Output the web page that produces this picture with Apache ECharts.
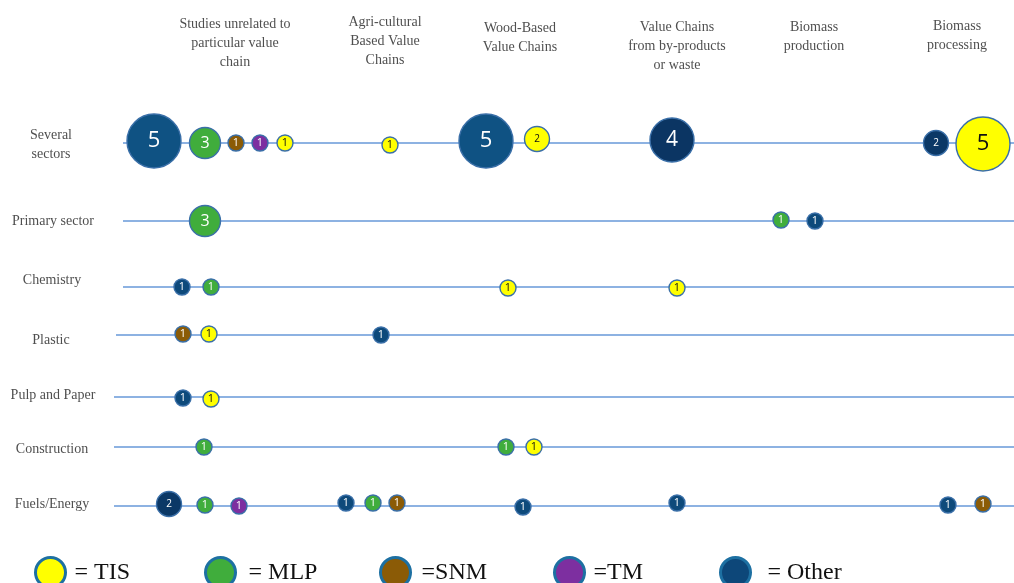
<!DOCTYPE html>
<html>
<head>
<meta charset="utf-8">
<script src="https://cdn.jsdelivr.net/npm/echarts@6/dist/echarts.min.js"></script>
<style>
html,body{margin:0;padding:0;background:#fff;}
#chart{width:1014px;height:583px;}
</style>
</head>
<body>
<div id="chart"></div>
<script>
// ---------- DATA ----------
const categories = ['TIS', 'MLP', 'SNM', 'TM', 'Other'];
const legendText = ['= TIS', '= MLP', '=SNM', '=TM', '= Other'];
const columnHeaders = [
  'Studies unrelated to\nparticular value\nchain',
  'Agri-cultural\nBased Value\nChains',
  'Wood-Based\nValue Chains',
  'Value Chains\nfrom by-products\nor waste',
  'Biomass\nproduction',
  'Biomass\nprocessing'
];
const rowNames = ['Several\nsectors', 'Primary sector', 'Chemistry', 'Plastic', 'Pulp and Paper', 'Construction', 'Fuels/Energy'];

// bubbles: [x on diagram scale, y on diagram scale, count]
const tisData = [[285,143,1],[390,145,1],[537,139,2],[983,144,5],[508,288,1],[677,288,1],[209,334,1],[211,399,1],[534,447,1]];
const mlpData = [[205,143,3],[205,221,3],[781,220,1],[211,287,1],[204,447,1],[506,447,1],[205,505,1],[373,503,1]];
const snmData = [[236,143,1],[183,334,1],[397,503,1],[983,504,1]];
const tmData  = [[260,143,1],[239,506,1]];
const otherData = [[154,141,5],[486,141,5],[672,140,4],[936,143,2],[815,221,1],[182,287,1],[381,335,1],[183,398,1],[169,504,2],[346,503,1],[523,507,1],[677,503,1],[948,505,1]];
const seriesData = [tisData, mlpData, snmData, tmData, otherData];

// ---------- LAYOUT / STYLE ----------
const colors = ['#ffff00', '#40ad3c', '#8b5b06', '#7d2fa0', '#0d4779'];
const otherShade = {1: '#0e4a7b', 2: '#0b3866', 3: '#0b3866', 4: '#0b3563', 5: '#0f5283'};
const sizeOf = {1: 16, 2: 25, 3: 31, 4: 44, 5: 54};
const fontOf = {1: 11, 2: 10, 3: 16, 4: 21, 5: 22};
const headerPos = [[235,43],[385,41],[520,38],[677,46],[814,37],[957,36]];
const rowLabelPos = [[51,145],[53,221],[52,280],[51,340],[53,395],[52,449],[52,504]];
const rowLinePos = [[123,143],[123,221],[123,287],[116,335],[114,397],[114,447],[114,506]];
const legendLeft = [34, 204, 379, 553, 719];
const legendPad = [4, 8, 6, 4, 12];

const serif = '"Liberation Serif", "Times New Roman", serif';

const chart = echarts.init(document.getElementById('chart'), null, {renderer: 'canvas'});

const series = [];

series.push({
  type: 'lines',
  coordinateSystem: 'cartesian2d',
  silent: true,
  z: 1,
  lineStyle: {color: '#8db2e2', width: 1.8, opacity: 1},
  data: rowLinePos.map(p => ({coords: [[p[0], p[1]], [1014, p[1]]]}))
});

categories.forEach((c, i) => {
  series.push({
    name: c,
    type: 'scatter',
    z: 3,
    itemStyle: {color: colors[i], borderColor: '#3a6fa8', borderWidth: 1.4, opacity: 1},
    data: seriesData[i].map(d => ({
      value: d,
      symbolSize: sizeOf[d[2]],
      itemStyle: c === 'Other' ? {color: otherShade[d[2]]} : {},
      label: {
        show: true,
        position: 'inside',
        formatter: String(d[2]),
        fontSize: fontOf[d[2]],
        fontFamily: '"Open Sans", "Noto Sans", sans-serif',
        color: c === 'TIS' ? '#111' : '#fff'
      }
    }))
  });
});

series.push({
  type: 'scatter',
  silent: true,
  symbolSize: 0,
  z: 4,
  data: rowNames.map((n, i) => ({
    value: rowLabelPos[i],
    label: {show: true, position: 'inside', formatter: n, fontFamily: serif, fontSize: 14, lineHeight: 19, color: '#222', align: 'center'}
  }))
});

series.push({
  type: 'scatter',
  silent: true,
  symbolSize: 0,
  z: 4,
  data: columnHeaders.map((n, i) => ({
    value: headerPos[i],
    label: {show: true, position: 'inside', formatter: n, fontFamily: serif, fontSize: 14, lineHeight: 19, color: '#222', align: 'center'}
  }))
});

const legends = categories.map((c, i) => ({
  data: [c],
  left: legendLeft[i],
  top: 556,
  padding: 0,
  orient: 'horizontal',
  itemWidth: 30,
  itemHeight: 32,
  icon: 'path://M50,0 A50,50 0 1,1 50,100 A50,50 0 1,1 50,0 Z',
  itemStyle: {borderColor: '#1d70a2', borderWidth: 3},
  selectedMode: false,
  formatter: () => legendText[i],
  textStyle: {fontFamily: serif, fontSize: 24, color: '#111', padding: [0, 0, 0, legendPad[i]]}
}));

chart.setOption({
  animation: false,
  backgroundColor: '#fff',
  grid: {left: 0, right: 0, top: 0, bottom: 0},
  xAxis: {type: 'value', min: 0, max: 1014, show: false},
  yAxis: {type: 'value', min: 0, max: 583, inverse: true, show: false},
  legend: legends,
  series: series
});
</script>
</body>
</html>
